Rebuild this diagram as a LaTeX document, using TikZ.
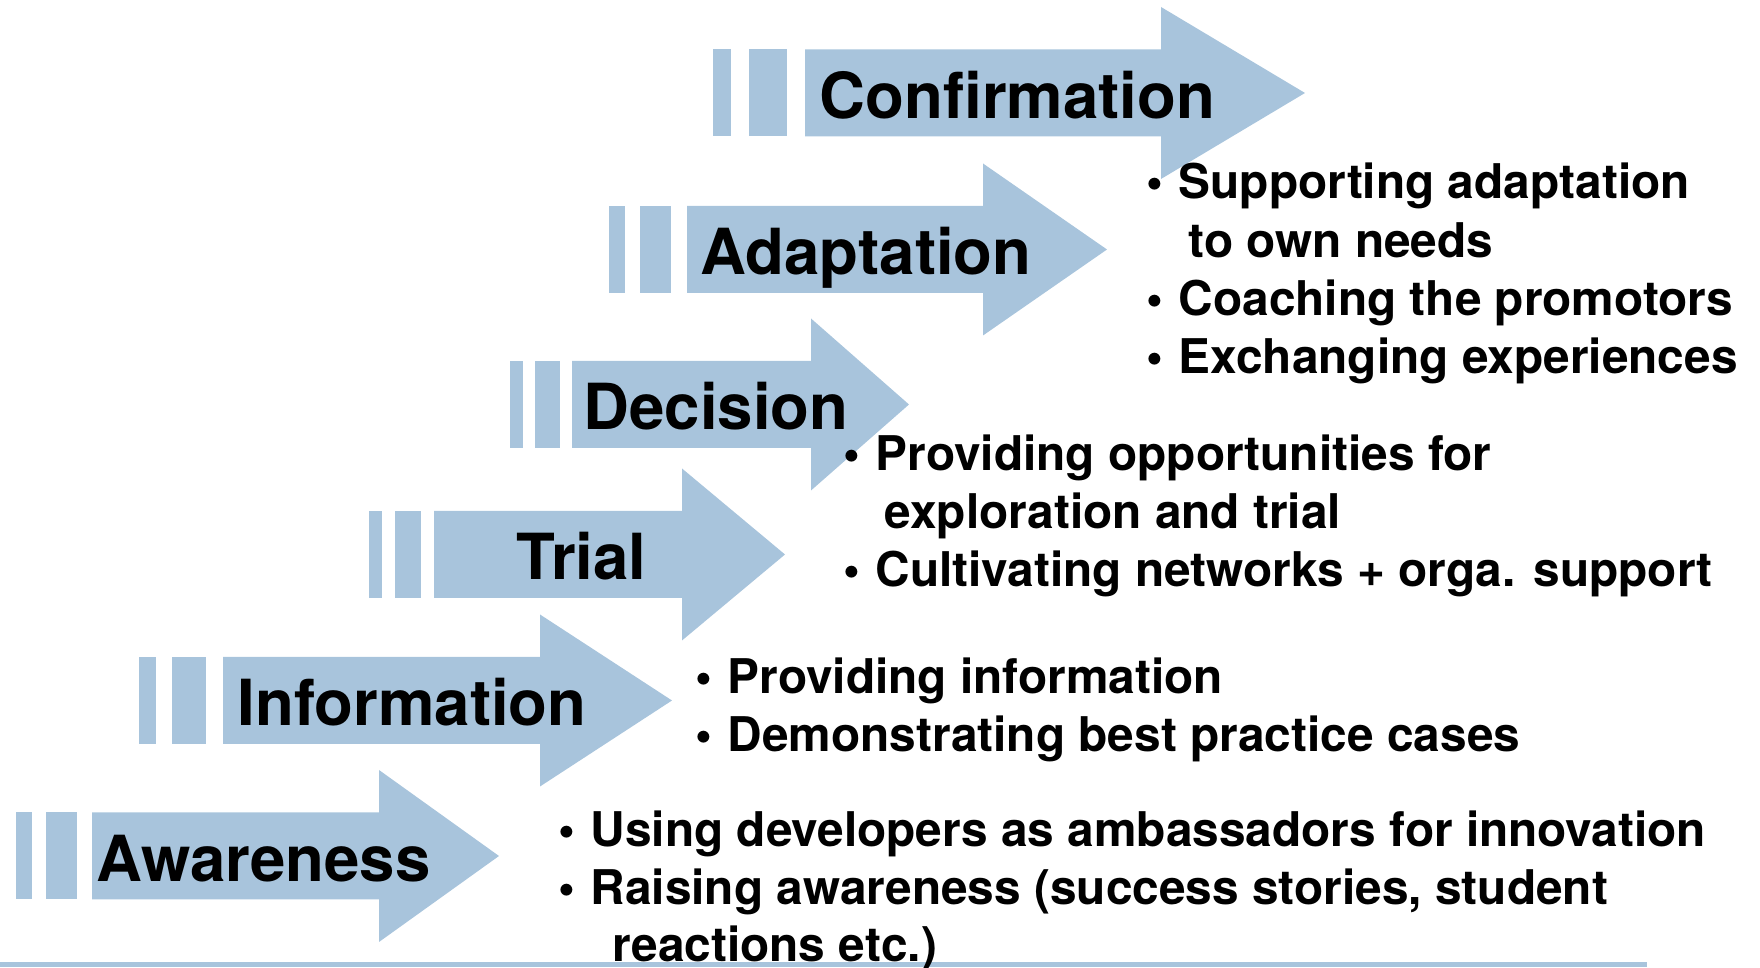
\documentclass[tikz,border=0pt]{standalone}
\usepackage{fontspec}
\setmainfont{TeX Gyre Heros}
\definecolor{arrowblue}{RGB}{168,196,220}
\tikzset{
  stagelabel/.style={anchor=base west, inner sep=0pt, font=\fontsize{18.07}{20}\selectfont\bfseries},
  itemtext/.style={anchor=base west, inner sep=0pt, font=\fontsize{13.6}{16}\selectfont\bfseries},
  band/.style={fill=arrowblue, draw=none},
}
\newcommand\itembullet{\llap{\textbullet\hspace{0.15cm}}}
% #1 a1, #2 a2, #3 b1, #4 b2, #5 body start, #6 shaft end, #7 tip, #8 centre y
\newcommand\stagearrow[8]{%
  \fill[band] (#1,{#8-43.5}) rectangle (#2,{#8+43.5});
  \fill[band] (#3,{#8-43.5}) rectangle (#4,{#8+43.5});
  \fill[band] (#5,{#8-43.5}) -- (#6,{#8-43.5}) -- (#6,{#8-86}) -- (#7,#8)
     -- (#6,{#8+86}) -- (#6,{#8+43.5}) -- (#5,{#8+43.5}) -- cycle;
}
\begin{document}
\begin{tikzpicture}[x=0.01cm, y=-0.01cm]
\useasboundingbox (0,0) rectangle (1760,968);

% arrows
\stagearrow{713}{731}{749}{787}{805}{1161}{1305}{93}
\stagearrow{609}{625}{640}{671}{687}{983}{1107}{249.5}
\stagearrow{510}{523}{535}{560}{572}{811}{909}{404.5}
\stagearrow{369}{382}{395}{421}{434}{682}{785}{554.5}
\stagearrow{139}{156}{172}{206}{223}{540}{672}{700.5}
\stagearrow{16}{32}{46}{77}{92}{379}{499}{856}

% bottom rule
\fill[band] (0,962) rectangle (1647,967);

% stage labels
\node[stagelabel] (confirmation) at (819,119) {Confirmation};
\node[stagelabel] (adaptation) at (700,275) {Adaptation};
\node[stagelabel] (decision) at (583,430) {Decision};
\node[stagelabel] (trial) at (516,580) {Trial};
\node[stagelabel] (information) at (237,726) {Information};
\node[stagelabel] (awareness) at (96,881.5) {Awareness};

% adaptation items
\node[itemtext] (ad1) at (1178,199) {\itembullet Supporting adaptation};
\node[itemtext] (ad1b) at (1188,258) {to own needs};
\node[itemtext] (ad2) at (1178,316) {\itembullet Coaching the promotors};
\node[itemtext] (ad3) at (1178,374) {\itembullet Exchanging experiences};

% decision / trial items
\node[itemtext] (de1) at (875,471) {\itembullet Providing opportunities for};
\node[itemtext] (de1b) at (884,529) {exploration and trial};
\node[itemtext] (de2) at (875,587) {\itembullet Cultivating networks + orga. support};

% information items
\node[itemtext] (in1) at (727,694) {\itembullet Providing information};
\node[itemtext] (in2) at (727,752) {\itembullet Demonstrating best practice cases};

% awareness items
\node[itemtext] (aw1) at (590,847) {\itembullet Using developers as ambassadors for innovation};
\node[itemtext] (aw2) at (590,905) {\itembullet Raising awareness (success stories, student};
\node[itemtext] (aw2b) at (612,962) {reactions etc.)};
\end{tikzpicture}
\end{document}
